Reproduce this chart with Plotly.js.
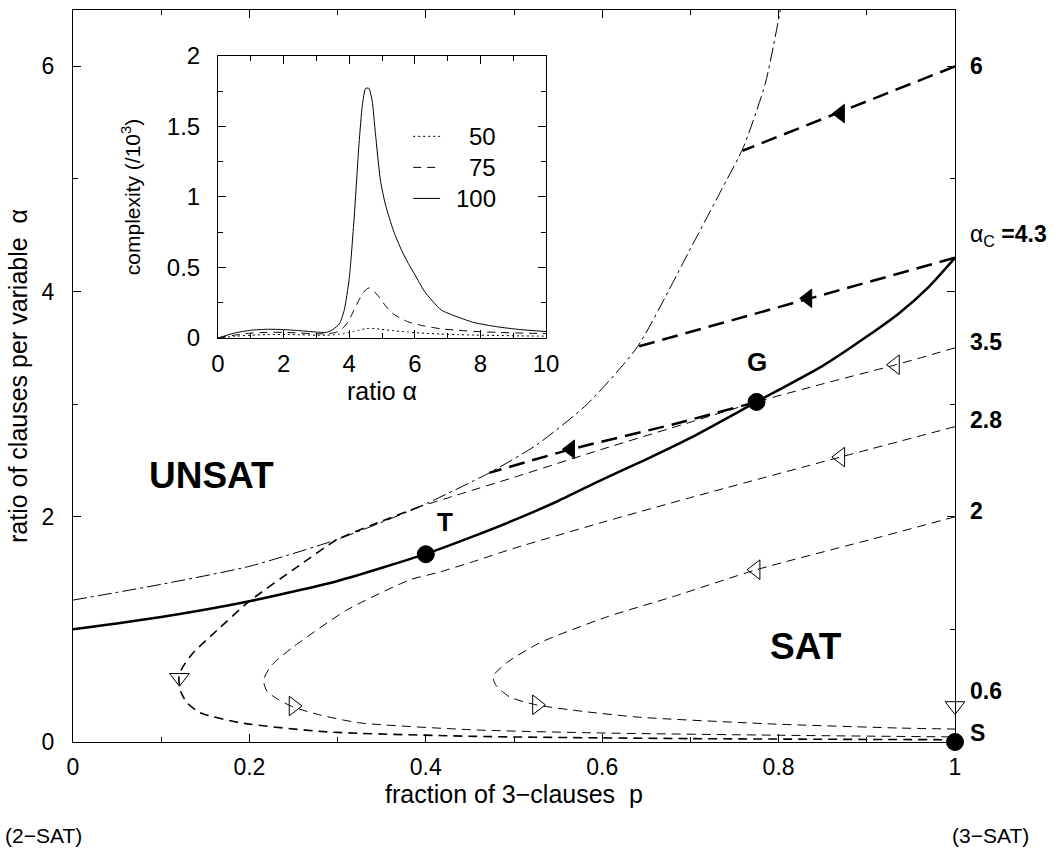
<!DOCTYPE html>
<html><head><meta charset="utf-8">
<script src="https://cdn.plot.ly/plotly-3.0.1.min.js"></script>
<style>html,body{margin:0;padding:0;background:#fff}#chart{width:1058px;height:856px}</style>
</head><body><div id="chart"></div>
<script>
// ---------- main diagram data ----------
const critP = [0, 0.1, 0.2, 0.3, 0.4, 0.45, 0.5, 0.55, 0.6, 0.65, 0.7, 0.775, 0.85, 0.9, 0.937, 0.97, 1];
const critA = [1.0, 1.11, 1.25, 1.43, 1.67, 1.815, 1.97, 2.14, 2.33, 2.51, 2.70, 3.02, 3.34, 3.60, 3.81, 4.04, 4.3];

const haltP = [0, 0.1, 0.2, 0.3, 0.393, 0.472, 0.526, 0.583, 0.64, 0.70, 0.735, 0.76, 0.785, 0.802];
const haltA = [1.26, 1.40, 1.56, 1.80, 2.09, 2.39, 2.64, 3.0, 3.51, 4.38, 4.9, 5.28, 5.85, 6.5];

const traj35UpperP = [1, 0.933, 0.85, 0.775, 0.7, 0.6, 0.5, 0.43, 0.393];
const traj35UpperA = [3.5, 3.35, 3.18, 3.02, 2.84, 2.6, 2.35, 2.18, 2.09];
const traj35LoopP = [0.393, 0.35, 0.3, 0.257, 0.2, 0.163, 0.136, 0.124, 0.12, 0.122, 0.129, 0.144, 0.19, 0.288, 0.457, 0.7, 1];
const traj35LoopA = [2.09, 1.96, 1.80, 1.57, 1.25, 0.99, 0.79, 0.66, 0.57, 0.45, 0.35, 0.26, 0.17, 0.09, 0.05, 0.03, 0.02];

const traj28P = [1, 0.87, 0.7, 0.6, 0.5, 0.457, 0.416, 0.382, 0.31, 0.249, 0.225, 0.216, 0.22, 0.232, 0.25, 0.28, 0.325, 0.457, 0.6, 0.8, 1];
const traj28A = [2.8, 2.53, 2.17, 1.95, 1.72, 1.61, 1.51, 1.44, 1.17, 0.84, 0.68, 0.55, 0.45, 0.38, 0.31, 0.24, 0.17, 0.107, 0.08, 0.06, 0.045];

const traj2P = [1, 0.915, 0.775, 0.68, 0.605, 0.529, 0.491, 0.476, 0.48, 0.495, 0.525, 0.58, 0.642, 0.793, 0.937, 1];
const traj2A = [2.0, 1.82, 1.53, 1.29, 1.11, 0.88, 0.70, 0.58, 0.50, 0.40, 0.33, 0.27, 0.22, 0.16, 0.124, 0.115];

const unsat6P = [1, 0.759];      const unsat6A = [6, 5.25];
const unsat43P = [1, 0.64];      const unsat43A = [4.3, 3.51];
const unsatGP = [0.775, 0.68, 0.565, 0.472]; const unsatGA = [3.02, 2.82, 2.60, 2.39];

const dotP = [0.4, 0.775, 1];            const dotA = [1.667, 3.02, 0];
const leftOpenP = [0.932, 0.87, 0.774];   const leftOpenA = [3.35, 2.53, 1.53];
const rightOpenP = [0.25, 0.526];         const rightOpenA = [0.32, 0.33];
const downOpenP = [0.1207, 1];            const downOpenA = [0.57, 0.32];
const leftFillP = [0.87, 0.833, 0.564];   const leftFillA = [5.58, 3.94, 2.60];

// ---------- inset data ----------
const insetAlpha = [0,0.5,1,1.5,2,2.5,3,3.3,3.5,3.7,3.85,4.0,4.15,4.3,4.4,4.5,4.6,4.7,4.8,4.95,5.1,5.35,5.6,5.8,6.0,6.3,6.8,7.3,7.8,8.5,9.2,10];
const cx100 = [0,0.035,0.055,0.062,0.06,0.052,0.042,0.04,0.06,0.1,0.2,0.42,0.85,1.38,1.65,1.77,1.77,1.68,1.45,1.12,0.95,0.76,0.62,0.53,0.45,0.33,0.2,0.15,0.11,0.08,0.06,0.046];
const cx75  = [0,0.02,0.035,0.04,0.04,0.035,0.03,0.03,0.035,0.05,0.08,0.13,0.2,0.27,0.31,0.34,0.355,0.345,0.32,0.28,0.23,0.17,0.135,0.115,0.1,0.085,0.065,0.055,0.047,0.04,0.035,0.032];
const cx50  = [0,0.012,0.02,0.024,0.025,0.023,0.02,0.02,0.022,0.027,0.033,0.04,0.048,0.056,0.062,0.066,0.068,0.068,0.066,0.062,0.058,0.052,0.046,0.042,0.038,0.034,0.028,0.024,0.021,0.018,0.015,0.013];
const legendLabels = ['50', '75', '100'];
const rightLabels = ['<b>6</b>', 'α<sub>C</sub> <b>=4.3</b>', '<b>3.5</b>', '<b>2.8</b>', '<b>2</b>', '<b>0.6</b>', '<b>S</b>'];
const rightLabelY = [6, 4.5, 3.55, 2.86, 2.05, 0.45, 0.08];

const FONT = 'Liberation Sans, Arial, Helvetica, sans-serif';
const K = '#000';

function ln(x, y, width, dash, extra) {
  return Object.assign({x: x, y: y, type: 'scatter', mode: 'lines', hoverinfo: 'skip',
    line: {color: K, width: width, dash: dash, shape: 'spline', smoothing: 0.6}}, extra || {});
}
function mk(x, y, symbol, size, extra) {
  return Object.assign({x: x, y: y, type: 'scatter', mode: 'markers', cliponaxis: false, hoverinfo: 'skip',
    marker: {symbol: symbol, size: size, color: K, line: {color: K, width: 1}}}, extra || {});
}

const THIN = '9px,6px';
const THICK = '16px,8px';
const traces = [
  ln(haltP, haltA, 1, '14px,4px,3px,4px'),
  ln(critP, critA, 2.5, 'solid'),
  ln(traj35UpperP, traj35UpperA, 1, THIN),
  ln(traj35LoopP, traj35LoopA, 1.6, THIN),
  ln(traj28P, traj28A, 1, THIN),
  ln(traj2P, traj2A, 1, THIN),
  ln(unsat6P, unsat6A, 2.5, THICK),
  ln(unsat43P, unsat43A, 2.5, THICK),
  ln(unsatGP, unsatGA, 2.5, THICK),
  mk(leftOpenP, leftOpenA, 'triangle-left-open', 17),
  mk(rightOpenP, rightOpenA, 'triangle-right-open', 17),
  mk(downOpenP, downOpenA, 'triangle-down-open', 17),
  mk(leftFillP, leftFillA, 'triangle-left', 16),
  mk(dotP, dotA, 'circle', 17),
  ln(insetAlpha, cx50, 1, '2px,3px', {xaxis: 'x2', yaxis: 'y2'}),
  ln(insetAlpha, cx75, 1, '8px,6px', {xaxis: 'x2', yaxis: 'y2'}),
  ln(insetAlpha, cx100, 1, 'solid', {xaxis: 'x2', yaxis: 'y2'})
];

const axisBase = {showline: true, linecolor: K, linewidth: 1, mirror: 'ticks', ticks: 'inside', ticklen: 8,
  tickcolor: K, tickwidth: 1, showgrid: false, zeroline: false, fixedrange: true,
  tickfont: {family: FONT, size: 23, color: K}};
function minor(d) { return {dtick: d, ticks: 'inside', ticklen: 5, tickcolor: K, tickwidth: 1, showgrid: false}; }

const annotations = [
  {x: 0.1565, y: 2.37, text: '<b>UNSAT</b>', font: {size: 37}},
  {x: 0.831, y: 0.85, text: '<b>SAT</b>', font: {size: 37}},
  {x: 0.422, y: 1.95, text: '<b>T</b>', font: {size: 26}},
  {x: 0.7755, y: 3.37, text: '<b>G</b>', font: {size: 26}},
  {xref: 'paper', yref: 'paper', x: -0.034, y: -0.1284, xanchor: 'center', yanchor: 'middle', text: '(2−SAT)', font: {size: 21}},
  {xref: 'paper', yref: 'paper', x: 1.0397, y: -0.1284, xanchor: 'center', yanchor: 'middle', text: '(3−SAT)', font: {size: 21}}
];
rightLabels.forEach((t, i) => annotations.push({xref: 'paper', x: 1.0147, xanchor: 'left', yanchor: 'middle', y: rightLabelY[i], text: t, font: {size: 23}}));
const legendY = [1.43, 1.21, 0.99];
const legendDash = ['2px,3px', '8px,6px', 'solid'];
legendLabels.forEach((t, i) => annotations.push({xref: 'x2', yref: 'y2', x: 8.54, xanchor: 'right', yanchor: 'middle', y: legendY[i], text: t, font: {size: 24}}));
annotations.forEach(a => {
  a.showarrow = false;
  a.font = Object.assign({family: FONT, color: K}, a.font);
  if (!a.xref) a.xref = 'x';
  if (!a.yref) a.yref = 'y';
});
const shapes = legendLabels.map((t, i) => ({type: 'line', xref: 'x2', yref: 'y2', x0: 5.95, x1: 6.77, y0: legendY[i], y1: legendY[i],
  line: {color: K, width: 1, dash: legendDash[i]}}));

const layout = {
  width: 1058, height: 856,
  margin: {l: 73, r: 103, t: 10, b: 114},
  paper_bgcolor: '#fff', plot_bgcolor: 'rgba(0,0,0,0)',
  showlegend: false,
  font: {family: FONT, color: K},
  xaxis: Object.assign({}, axisBase, {domain: [0, 1], anchor: 'y', range: [0, 1], tick0: 0, dtick: 0.2,
    minor: minor(0.1), ticklabelstandoff: 4,
    title: {text: 'fraction of 3−clauses\u00a0 p', font: {family: FONT, size: 25, color: K}, standoff: 6}}),
  yaxis: Object.assign({}, axisBase, {domain: [0, 1], anchor: 'x', range: [0, 6.5], tick0: 0, dtick: 2,
    minor: minor(1), ticklabelstandoff: 13,
    title: {text: 'ratio of clauses per variable\u00a0 α', font: {family: FONT, size: 25, color: K}, standoff: 6}}),
  xaxis2: Object.assign({}, axisBase, {domain: [0.1644, 0.5363], anchor: 'y2', range: [0, 10], tick0: 0, dtick: 2,
    minor: minor(1), ticklabelstandoff: 4, tickfont: {family: FONT, size: 24, color: K},
    title: {text: 'ratio α', font: {family: FONT, size: 25, color: K}, standoff: 2}}),
  yaxis2: Object.assign({}, axisBase, {domain: [0.5519, 0.9372], anchor: 'x2', range: [0, 2], tick0: 0, dtick: 0.5,
    minor: minor(0.25), ticklabelstandoff: 12, tickfont: {family: FONT, size: 24, color: K},
    title: {text: 'complexity (/10<sup>3</sup>)', font: {family: FONT, size: 21, color: K}, standoff: 20}}),
  annotations: annotations,
  shapes: shapes
};

Plotly.newPlot('chart', traces, layout, {displayModeBar: false, staticPlot: true});
</script>
</body></html>
